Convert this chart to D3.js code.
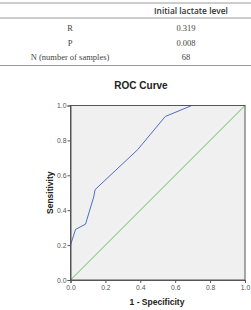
<!DOCTYPE html>
<html><head><meta charset="utf-8">
<script src="https://cdn.jsdelivr.net/npm/d3@7"></script>
<style>body{margin:0;background:#fff}svg{display:block}</style>
</head><body>
<script>
const tableHeader = "Initial lactate level";
const rowLabels = ["R", "P", "N (number of samples)"];
const rowValues = ["0.319", "0.008", "68"];
const chartTitle = "ROC Curve";
const rocFpr = [0, 0, 0.029, 0.086, 0.133, 0.141, 0.385, 0.543, 0.695, 1.0];
const rocTpr = [0, 0.2, 0.29, 0.32, 0.476, 0.518, 0.747, 0.937, 1.0, 1.0];
const refLine = [0, 1];
const tickValues = [0, 0.2, 0.4, 0.6, 0.8, 1.0];
const xLabel = "1 - Specificity";
const yLabel = "Sensitivity";

const W = 251, H = 310;
const svg = d3.select("body").append("svg").attr("width", W).attr("height", H);

// table
const lineColor = "#9a9a9a";
[3, 18].forEach(y => svg.append("line").attr("x1", 0).attr("x2", W).attr("y1", y).attr("y2", y)
  .attr("stroke", lineColor).attr("stroke-width", 1));
svg.append("line").attr("x1", 0).attr("x2", W).attr("y1", 65.5).attr("y2", 65.5)
  .attr("stroke", lineColor).attr("stroke-width", 1);
svg.append("text").attr("x", 191).attr("y", 14).attr("text-anchor", "middle")
  .attr("font-family", "Open Sans").attr("font-weight", 600).attr("font-size", 8.4)
  .attr("fill", "#333").text(tableHeader);
const rowY = [31, 46, 60];
rowLabels.forEach((t, i) => {
  svg.append("text").attr("x", 70).attr("y", rowY[i]).attr("text-anchor", "middle")
    .attr("font-family", "Liberation Serif").attr("font-size", 8.5).attr("fill", "#444").text(t);
  svg.append("text").attr("x", 186).attr("y", rowY[i]).attr("text-anchor", "middle")
    .attr("font-family", "Liberation Serif").attr("font-size", 8.5).attr("fill", "#444").text(rowValues[i]);
});

// chart
svg.append("text").attr("x", 141).attr("y", 89).attr("text-anchor", "middle")
  .attr("font-family", "Liberation Sans").attr("font-weight", "bold").attr("font-size", 10)
  .attr("fill", "#222").text(chartTitle);

const x = d3.scaleLinear().domain([0, 1]).range([70.5, 245]);
const y = d3.scaleLinear().domain([0, 1]).range([280, 105.5]);

svg.append("rect").attr("x", x(0)).attr("y", y(1)).attr("width", x(1) - x(0)).attr("height", y(0) - y(1))
  .attr("fill", "#f0f0f0");

svg.append("line").attr("x1", x(refLine[0])).attr("y1", y(refLine[0]))
  .attr("x2", x(refLine[1])).attr("y2", y(refLine[1]))
  .attr("stroke", "#5fc05f").attr("stroke-width", 1);

const pts = rocFpr.map((f, i) => [f, rocTpr[i]]);
svg.append("path").datum(pts)
  .attr("d", d3.line().x(d => x(d[0])).y(d => y(d[1])))
  .attr("fill", "none").attr("stroke", "#4f6ec4").attr("stroke-width", 1);

svg.append("rect").attr("x", x(0)).attr("y", y(1)).attr("width", x(1) - x(0)).attr("height", y(0) - y(1))
  .attr("fill", "none").attr("stroke", "#555").attr("stroke-width", 1);

const fmt = d3.format(".1f");
const xa = svg.append("g").attr("transform", `translate(0,${y(0)})`)
  .call(d3.axisBottom(x).tickValues(tickValues).tickFormat(fmt).tickSize(3).tickPadding(2));
const ya = svg.append("g").attr("transform", `translate(${x(0)},0)`)
  .call(d3.axisLeft(y).tickValues(tickValues).tickFormat(fmt).tickSize(3).tickPadding(1));
[xa, ya].forEach(a => {
  a.select(".domain").attr("stroke", "#555");
  a.selectAll(".tick line").attr("stroke", "#555");
  a.selectAll("text").attr("font-family", "Liberation Sans").attr("font-size", 6.8).attr("fill", "#555");
});

svg.append("text").attr("x", 157).attr("y", 305).attr("text-anchor", "middle")
  .attr("font-family", "Liberation Sans").attr("font-weight", "bold").attr("font-size", 8.5)
  .attr("fill", "#222").text(xLabel);
svg.append("text").attr("transform", `translate(53,${(y(0) + y(1)) / 2}) rotate(-90)`)
  .attr("text-anchor", "middle")
  .attr("font-family", "Liberation Sans").attr("font-weight", "bold").attr("font-size", 8.5)
  .attr("fill", "#222").text(yLabel);
</script>
</body></html>
